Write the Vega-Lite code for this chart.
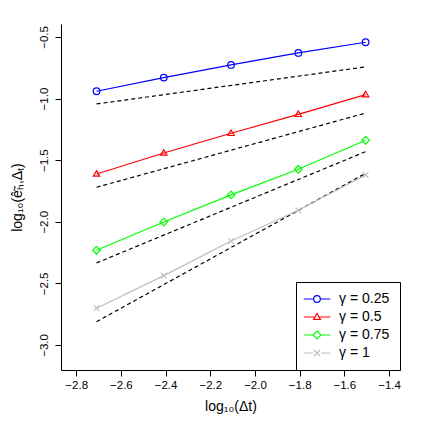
{
  "$schema": "https://vega.github.io/schema/vega-lite/v6.json",
  "autosize": "none",
  "width": 339,
  "height": 346,
  "padding": {"left": 61, "top": 24, "right": 25, "bottom": 55},
  "background": "white",
  "config": {
    "view": {"stroke": null},
    "font": "Liberation Sans",
    "axis": {
      "grid": false,
      "domainColor": "black",
      "tickColor": "black",
      "labelColor": "black",
      "titleColor": "black",
      "tickSize": 6,
      "labelFontSize": 11.5,
      "titleFontSize": 14,
      "titleFontWeight": "normal",
      "labelFont": "Liberation Sans",
      "titleFont": "Liberation Sans"
    }
  },
  "data": {
    "values": [
      {"gamma": "0.25", "kind": "num", "logdt": -2.709, "y": -0.941},
      {"gamma": "0.25", "kind": "num", "logdt": -2.408, "y": -0.830},
      {"gamma": "0.25", "kind": "num", "logdt": -2.107, "y": -0.727},
      {"gamma": "0.25", "kind": "num", "logdt": -1.806, "y": -0.630},
      {"gamma": "0.25", "kind": "num", "logdt": -1.505, "y": -0.543},
      {"gamma": "0.5", "kind": "num", "logdt": -2.709, "y": -1.612},
      {"gamma": "0.5", "kind": "num", "logdt": -2.408, "y": -1.442},
      {"gamma": "0.5", "kind": "num", "logdt": -2.107, "y": -1.282},
      {"gamma": "0.5", "kind": "num", "logdt": -1.806, "y": -1.128},
      {"gamma": "0.5", "kind": "num", "logdt": -1.505, "y": -0.968},
      {"gamma": "0.75", "kind": "num", "logdt": -2.709, "y": -2.231},
      {"gamma": "0.75", "kind": "num", "logdt": -2.408, "y": -2.002},
      {"gamma": "0.75", "kind": "num", "logdt": -2.107, "y": -1.782},
      {"gamma": "0.75", "kind": "num", "logdt": -1.806, "y": -1.574},
      {"gamma": "0.75", "kind": "num", "logdt": -1.505, "y": -1.339},
      {"gamma": "1", "kind": "num", "logdt": -2.709, "y": -2.702},
      {"gamma": "1", "kind": "num", "logdt": -2.408, "y": -2.437},
      {"gamma": "1", "kind": "num", "logdt": -2.107, "y": -2.156},
      {"gamma": "1", "kind": "num", "logdt": -1.806, "y": -1.907},
      {"gamma": "1", "kind": "num", "logdt": -1.505, "y": -1.620},
      {"gamma": "0.25", "kind": "ref", "logdt": -2.709, "y": -1.044},
      {"gamma": "0.25", "kind": "ref", "logdt": -1.505, "y": -0.743},
      {"gamma": "0.5", "kind": "ref", "logdt": -2.709, "y": -1.720},
      {"gamma": "0.5", "kind": "ref", "logdt": -1.505, "y": -1.118},
      {"gamma": "0.75", "kind": "ref", "logdt": -2.709, "y": -2.334},
      {"gamma": "0.75", "kind": "ref", "logdt": -1.505, "y": -1.431},
      {"gamma": "1", "kind": "ref", "logdt": -2.709, "y": -2.811},
      {"gamma": "1", "kind": "ref", "logdt": -1.505, "y": -1.607}
    ]
  },
  "encoding": {
    "x": {
      "field": "logdt",
      "type": "quantitative",
      "scale": {"domain": [-2.868, -1.351], "nice": false, "zero": false},
      "axis": {
        "values": [-2.8, -2.6, -2.4, -2.2, -2.0, -1.8, -1.6, -1.4],
        "format": ".1f",
        "title": "log₁₀(Δt)",
        "labelPadding": 3,
        "titlePadding": 9
      }
    },
    "y": {
      "field": "y",
      "type": "quantitative",
      "scale": {"domain": [-3.203, -0.395], "nice": false, "zero": false},
      "axis": {
        "values": [-3.0, -2.5, -2.0, -1.5, -1.0, -0.5],
        "format": ".1f",
        "labelAngle": 270,
        "labelAlign": "center",
        "labelBaseline": "bottom",
        "labelPadding": 6,
        "title": "log₁₀(êₕ̃,Δₜ)",
        "titlePadding": 14
      }
    }
  },
  "resolve": {"scale": {"shape": "independent", "stroke": "independent"}, "legend": {"shape": "independent", "stroke": "independent"}},
  "layer": [
    {
      "transform": [{"filter": "datum.kind === 'ref'"}],
      "mark": {"type": "line", "color": "black", "strokeDash": [4, 3], "strokeWidth": 1.2},
      "encoding": {"detail": {"field": "gamma", "type": "nominal"}}
    },
    {
      "transform": [{"filter": "datum.kind === 'num'"}],
      "mark": {"type": "line", "strokeWidth": 1.2},
      "encoding": {
        "stroke": {
          "field": "gamma",
          "type": "nominal",
          "scale": {"domain": ["0.25", "0.5", "0.75", "1"], "range": ["#0000FF", "#FF0000", "#00FF00", "#BEBEBE"]},
          "legend": null
        }
      }
    },
    {
      "transform": [{"filter": "datum.kind === 'num'"}],
      "mark": {"type": "point", "filled": false, "strokeWidth": 1.2, "size": 44, "opacity": 1},
      "encoding": {
        "stroke": {
          "field": "gamma",
          "type": "nominal",
          "scale": {"domain": ["0.25", "0.5", "0.75", "1"], "range": ["#0000FF", "#FF0000", "#00FF00", "#BEBEBE"]},
          "legend": null
        },
        "shape": {
          "field": "gamma",
          "type": "nominal",
          "scale": {
            "domain": ["0.25", "0.5", "0.75", "1"],
            "range": ["circle", "M0,-1L0.97,0.66L-0.97,0.66Z", "M0,-1.15L1.15,0L0,1.15L-1.15,0Z", "M-0.85,-0.85L0.85,0.85M-0.85,0.85L0.85,-0.85"]
          },
          "legend": null
        }
      }
    },
    {
      "transform": [{"filter": "datum.kind === 'num'"}],
      "mark": {"type": "point", "filled": false, "strokeWidth": 1.2, "size": 44, "opacity": 0},
      "encoding": {
        "stroke": {
          "field": "gamma",
          "type": "nominal",
          "scale": {"domain": ["0.25", "0.5", "0.75", "1"], "range": ["#0000FF", "#FF0000", "#00FF00", "#BEBEBE"]},
          "legend": {
            "title": null,
            "orient": "bottom-right",
            "offset": 0,
            "strokeColor": "black",
            "fillColor": "white",
            "cornerRadius": 0,
            "padding": 10,
            "rowPadding": 4,
            "labelFontSize": 14,
            "labelColor": "black",
            "labelOffset": 15,
            "symbolOffset": 4,
            "symbolSize": 100,
            "symbolOpacity": 1,
            "symbolStrokeWidth": 1.2,
            "symbolFillColor": "transparent",
            "labelExpr": "'γ = ' + datum.label"
          }
        },
        "shape": {
          "field": "gamma",
          "type": "nominal",
          "scale": {
            "domain": ["0.25", "0.5", "0.75", "1"],
            "range": [
              "M-2.66,0H-0.66M0.66,0H2.66M0.66,0A0.66,0.66 0 1 1 -0.66,0A0.66,0.66 0 1 1 0.66,0",
              "M-2.66,0H-0.41M0.41,0H2.66M0,-0.7L0.68,0.46L-0.68,0.46Z",
              "M-2.66,0H-0.8M0.8,0H2.66M0,-0.8L0.8,0L0,0.8L-0.8,0Z",
              "M-2.66,0H-0.8M0.8,0H2.66M-0.6,-0.6L0.6,0.6M-0.6,0.6L0.6,-0.6"
            ]
          },
          "legend": {
            "title": null,
            "orient": "bottom-right",
            "offset": 0,
            "strokeColor": "black",
            "fillColor": "white",
            "cornerRadius": 0,
            "padding": 10,
            "rowPadding": 4,
            "labelFontSize": 14,
            "labelColor": "black",
            "labelOffset": 15,
            "symbolOffset": 4,
            "symbolSize": 100,
            "symbolOpacity": 1,
            "symbolStrokeWidth": 1.2,
            "symbolFillColor": "transparent",
            "labelExpr": "'γ = ' + datum.label"
          }
        }
      }
    }
  ]
}
